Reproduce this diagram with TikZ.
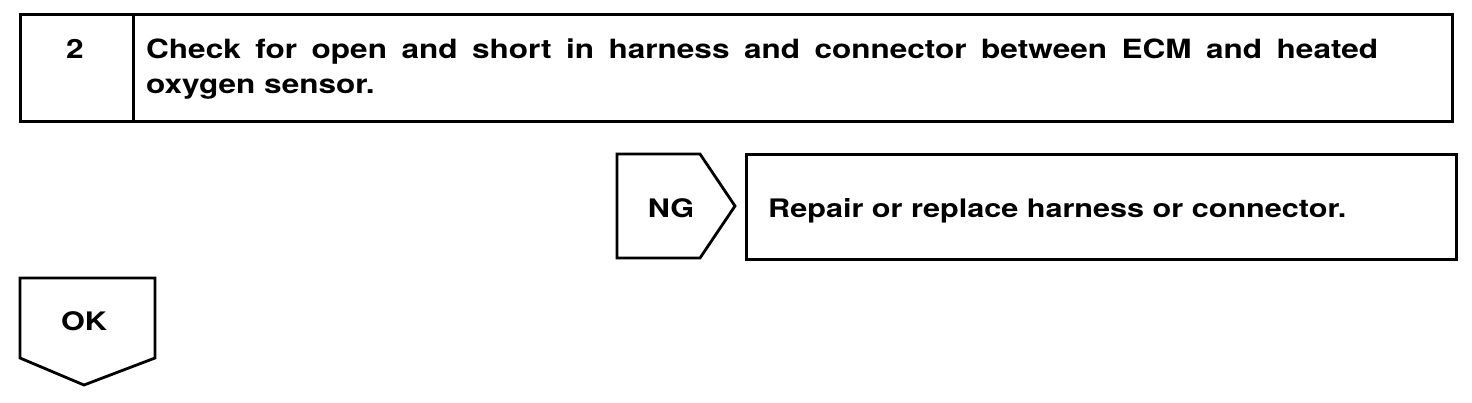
\documentclass[tikz,border=0pt]{standalone}
\usepackage{fontspec}
\setmainfont[FakeStretch=1.2]{TeX Gyre Heros}
\newfontfamily\headfont[FakeStretch=1.19]{TeX Gyre Heros}
\usetikzlibrary{positioning}
\tikzset{
    box/.style = {
      draw, line width=2.8pt, inner sep=0, anchor=north west,
    },
    tab/.style = {draw, line width=2.8pt, line join=miter},
    label text/.style = {
      font=\bfseries\fontsize{25.5}{25.5}\selectfont, inner sep=0,
    },
    head text/.style = {
      font=\headfont\bfseries\fontsize{26.5}{26.5}\selectfont, inner sep=0,
    },
}

\begin{document}
\begin{tikzpicture}[x=1pt, y=-1pt]
    \useasboundingbox (0,0) rectangle (1472,402);

    %% Step header with its number cell
    \node [box, minimum width=1432pt, minimum height=107pt] (step) at (19,13) {};
    \node [box, minimum width=113pt, minimum height=107pt] (num_box) at (19,13) {};
    \node [head text, anchor=base] (num) at (75,58) {2};
    \node [head text, anchor=base west] (check) at (146,58)
      {\makebox[1232pt][s]{Check for open and short in harness and connector between ECM and heated}};
    \node [head text, anchor=base west] (check_2) at (146,93) {oxygen sensor.};

    %% NG tab and the repair box
    \draw [tab] (617,154) -- (700,154) -- (735,206) -- (700,258) -- (617,258) -- cycle;
    \node [label text, anchor=base] (ng) at (671,217) {NG};
    \node [box, minimum width=710pt, minimum height=105pt] (repair_box) at (745,153) {};
    \node [label text, anchor=base west] (repair) at (768,217)
      {Repair or replace harness or connector.};

    %% OK tab
    \draw [tab] (20,278) -- (155,278) -- (155,358) -- (84,385) -- (20,358) -- cycle;
    \node [label text, anchor=base] (ok) at (84,330) {OK};
\end{tikzpicture}
\end{document}
